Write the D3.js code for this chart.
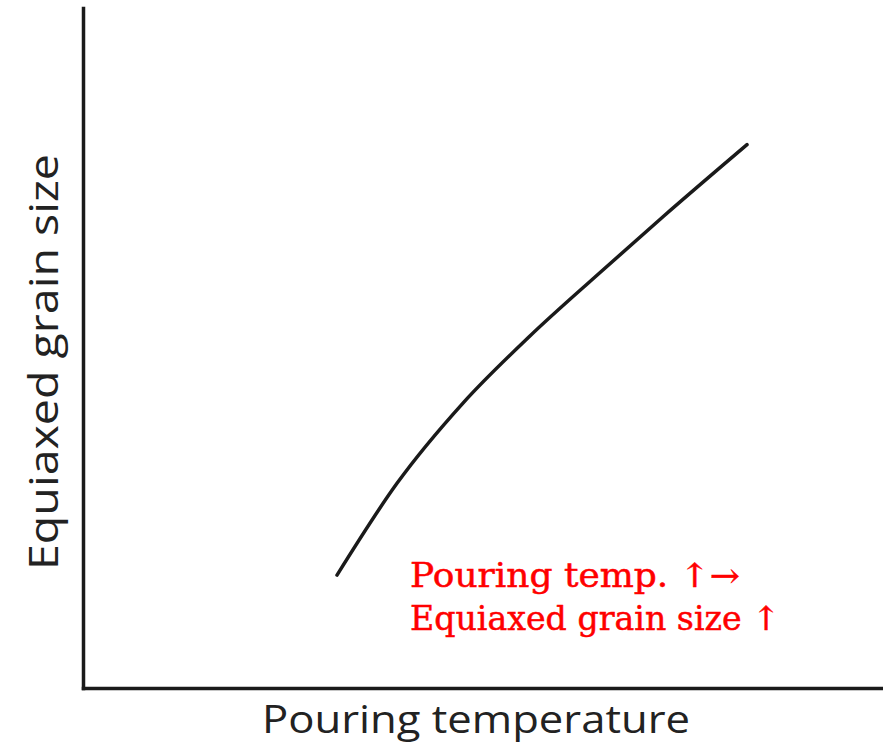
<!DOCTYPE html>
<html>
<head>
<meta charset="utf-8">
<script src="https://cdn.jsdelivr.net/npm/d3@7"></script>
<style>
  html, body { margin: 0; padding: 0; background: #fff; }
  svg { display: block; }
</style>
</head>
<body>
<svg id="chart" width="883" height="748"></svg>
<script>
// Data (abstract units, no numeric ticks on the original chart)
const pouringTemp = [3.175, 3.925, 4.75, 5.59, 6.425, 7.25, 8.3];
const grainSize   = [1.66, 3.01, 4.19, 5.18, 6.07, 6.93, 7.99];
const xLabel = "Pouring temperature";
const yLabel = "Equiaxed grain size";
const noteLines = ["Pouring temp. \u2191\u2192", "Equiaxed grain size \u2191"];

const svg = d3.select("#chart");
const x = d3.scaleLinear().domain([0, 10]).range([83, 883]);
const y = d3.scaleLinear().domain([0, 10]).range([688, 8]);

const ink = "#1a1a1a";

// Axes (no ticks)
const xAxis = d3.axisBottom(x).tickValues([]).tickSizeOuter(0);
const yAxis = d3.axisLeft(y).tickValues([]).tickSizeOuter(0);
const gx = svg.append("g").attr("transform", `translate(0,${y(0)})`).call(xAxis);
const gy = svg.append("g").attr("transform", `translate(${x(0)},0)`).call(yAxis);
[gx, gy].forEach(g => g.select(".domain").attr("stroke", ink).attr("stroke-width", 3.5).attr("stroke-linecap", "square"));

// Curve
const pts = pouringTemp.map((t, i) => [t, grainSize[i]]);
const line = d3.line().x(d => x(d[0])).y(d => y(d[1])).curve(d3.curveMonotoneX);
svg.append("path")
  .datum(pts)
  .attr("d", line)
  .attr("fill", "none")
  .attr("stroke", ink)
  .attr("stroke-width", 3.5)
  .attr("stroke-linecap", "round");

// Axis labels
svg.append("text")
  .attr("x", 262).attr("y", 733)
  .attr("textLength", 428).attr("lengthAdjust", "spacingAndGlyphs")
  .attr("font-family", "'Open Sans', sans-serif")
  .attr("font-size", 39)
  .attr("fill", "#222")
  .text(xLabel);

svg.append("text")
  .attr("transform", "translate(58,570) rotate(-90)")
  .attr("textLength", 416).attr("lengthAdjust", "spacingAndGlyphs")
  .attr("font-family", "'Open Sans', sans-serif")
  .attr("font-size", 41)
  .attr("fill", "#222")
  .text(yLabel);

// Red annotation
const noteWidths = [330, 370];
const note = svg.append("text")
  .attr("font-family", "'DejaVu Serif', serif")
  .attr("font-size", 33)
  .attr("fill", "#ff0000")
  .attr("stroke", "#ff0000")
  .attr("stroke-width", 0.5);
noteLines.forEach((s, i) => {
  note.append("tspan").attr("x", 410).attr("y", 587 + i * 43)
    .attr("textLength", noteWidths[i]).attr("lengthAdjust", "spacingAndGlyphs")
    .text(s);
});
</script>
</body>
</html>
